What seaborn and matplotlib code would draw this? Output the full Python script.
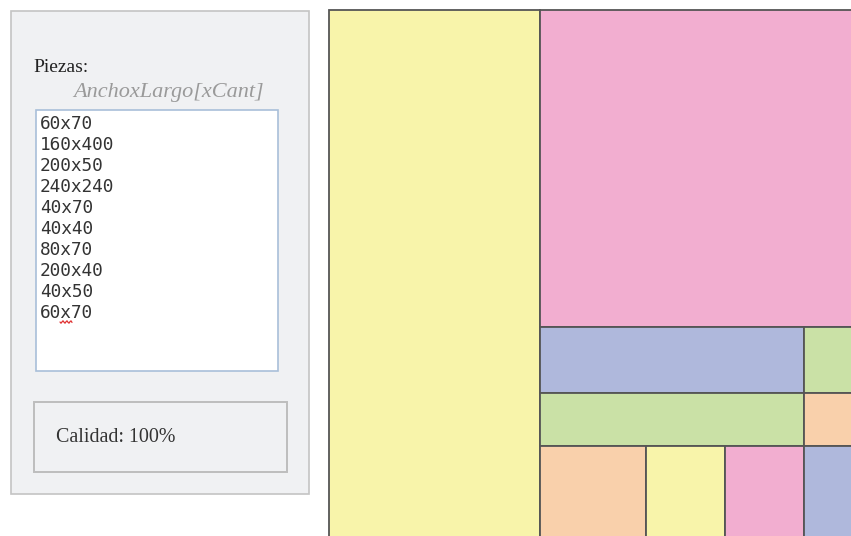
import numpy as np
import matplotlib
matplotlib.use("Agg")
import matplotlib.pyplot as plt
from matplotlib.patches import Rectangle
import seaborn as sns

# Piezas introducidas (Ancho x Largo), en el orden del cuadro de texto
anchos = [60, 160, 200, 240, 40, 40, 80, 200, 40, 60]
largos = [70, 400, 50, 240, 70, 40, 70, 40, 50, 70]

# Resultado del corte: qué pieza va dónde (unidades de la plancha)
orden_piezas = [1, 3, 2, 8, 7, 5, 6, 0, 9, 4]
pos_x = [0, 160, 160, 360, 160, 360, 160, 240, 300, 360]
pos_y = [0, 0, 240, 240, 290, 290, 330, 330, 330, 330]
colores_piezas = ["amarillo", "rosa", "azul", "verde", "verde",
                  "naranja", "naranja", "amarillo", "rosa", "azul"]

calidad = 100

paleta = dict(zip(["amarillo", "rosa", "azul", "verde", "naranja"],
                  sns.color_palette(["#F8F4AA", "#F2AED0", "#AFB8DC",
                                     "#CAE1A6", "#F9D0AB"])))

sns.set_theme(style="white")
plt.rcParams["font.family"] = ["Liberation Serif", "DejaVu Serif"]

W, H = 851, 536
fig = plt.figure(figsize=(W / 100, H / 100), dpi=100)

# --- panel izquierdo (coordenadas en pixeles) ---
bg = fig.add_axes([0, 0, 1, 1])
bg.set_xlim(0, W)
bg.set_ylim(H, 0)
bg.axis("off")

bg.add_patch(Rectangle((11, 11), 298, 483, facecolor="#F0F1F3",
                       edgecolor="#C4C4C4", lw=1.2))
bg.text(33, 68, "Piezas:", fontsize=14, color="#222222", va="center")
bg.text(169, 93, "AnchoxLargo[xCant]", fontsize=16, style="italic",
        color="#9A9A9A", ha="center", va="center")
bg.add_patch(Rectangle((36, 110), 242, 261, facecolor="white",
                       edgecolor="#A9BFD9", lw=1.2))
for i, (a, l) in enumerate(zip(anchos, largos)):
    bg.text(40, 124 + 21 * i, f"{a}x{l}", fontsize=12.8,
            family="DejaVu Sans Mono", color="#333333", va="center")

# subrayado rojo del corrector bajo la "x" de la última línea
sx = np.linspace(60, 72, 13)
bg.plot(sx, 322 + 1.2 * np.sin((sx - 60) * 1.6), color="#E03030", lw=0.9)

bg.add_patch(Rectangle((34, 402), 253, 70, facecolor="#F0F1F3",
                       edgecolor="#BDBDBD", lw=1.4))
bg.text(56, 437, f"Calidad: {calidad}%", fontsize=14.4, color="#333333",
        va="center")

# --- plancha con las piezas colocadas ---
escala = 1.32  # pixeles por unidad
x0, y0 = 329, 10
ax = fig.add_axes([x0 / W, 0, (W - x0) / W, (H - y0) / H])
ax.set_xlim(0, (W - x0) / escala)
ax.set_ylim((H - y0) / escala, 0)
ax.axis("off")

for k, idx in enumerate(orden_piezas):
    ax.add_patch(Rectangle((pos_x[k], pos_y[k]), anchos[idx], largos[idx],
                           facecolor=paleta[colores_piezas[k]],
                           edgecolor="#555555", lw=1.3, clip_on=False))

fig.savefig("out.png", dpi=100)
